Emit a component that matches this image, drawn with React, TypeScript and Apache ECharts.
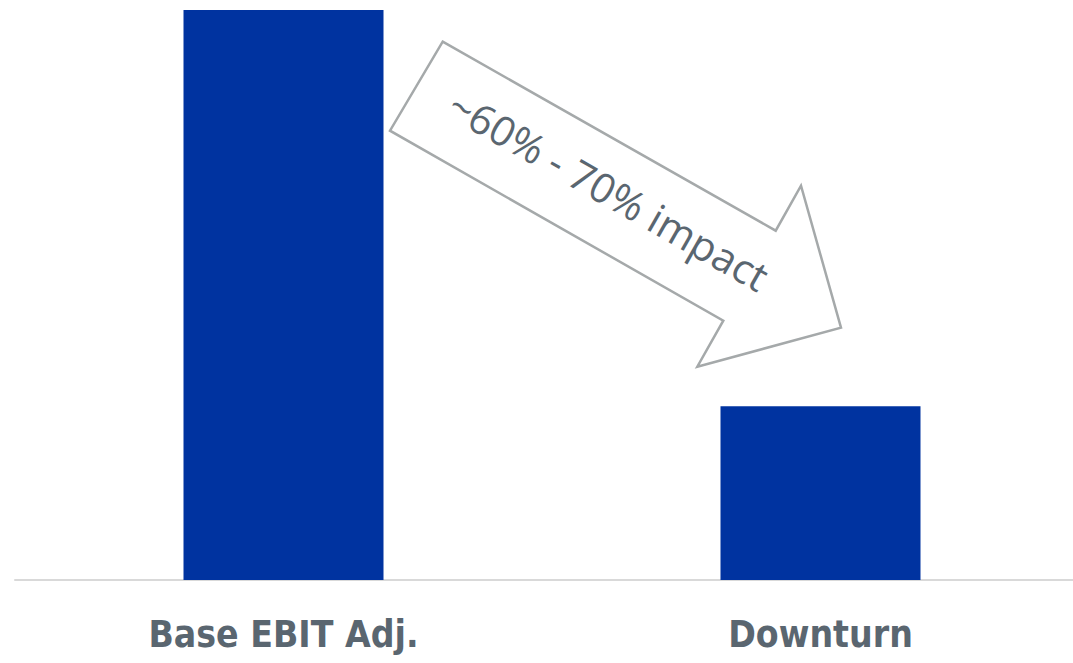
import React, { useEffect, useRef } from "react";
import * as echarts from "echarts";

const categories = ["Base EBIT Adj.", "Downturn"];
const values = [100, 30.5];
const arrowLabel = "~60% - 70% impact";

export default function App() {
  const ref = useRef<HTMLDivElement>(null);
  useEffect(() => {
    if (!ref.current) return;
    document.body.style.overflow = "hidden";
    const chart = echarts.init(ref.current, null, { renderer: "svg" });
    chart.setOption({
      animation: false,
      backgroundColor: "#ffffff",
      grid: { left: 15, top: 10, bottom: 83, right: 0, containLabel: false },
      xAxis: {
        type: "category",
        data: categories,
        axisLine: { show: true, lineStyle: { color: "#D9D9D9", width: 2 } },
        axisTick: { show: false },
        axisLabel: {
          color: "#5A6670",
          fontFamily: "'DejaVu Sans Condensed', 'Open Sans', sans-serif",
          fontWeight: "bold",
          fontSize: 37,
          margin: 36,
        },
      },
      yAxis: {
        type: "value",
        min: 0,
        max: 100,
        show: false,
        splitLine: { show: false },
      },
      series: [
        {
          type: "bar",
          data: values,
          barWidth: 200,
          itemStyle: { color: "#0033A0" },
        },
      ],
      graphic: [
        {
          type: "polygon",
          shape: {
            points: [
              [442.7, 41.7],
              [775.7, 230.7],
              [801, 185.7],
              [841, 327.7],
              [697.3, 366.7],
              [723.3, 320.7],
              [390, 130.7],
            ],
          },
          style: { fill: "#ffffff", stroke: "#A5A9AA", lineWidth: 2.5 },
          z: 10,
        },
        {
          type: "text",
          x: 609,
          y: 190,
          rotation: (-29.6 * Math.PI) / 180,
          style: {
            text: arrowLabel,
            fill: "#5A6670",
            font: "41px 'Open Sans'",
            align: "center",
            verticalAlign: "middle",
          },
          z: 11,
        },
      ],
    });
    return () => chart.dispose();
  }, []);
  return (
    <div
      ref={ref}
      style={{ position: "fixed", left: 0, top: 0, width: 1089, height: 663 }}
    />
  );
}
